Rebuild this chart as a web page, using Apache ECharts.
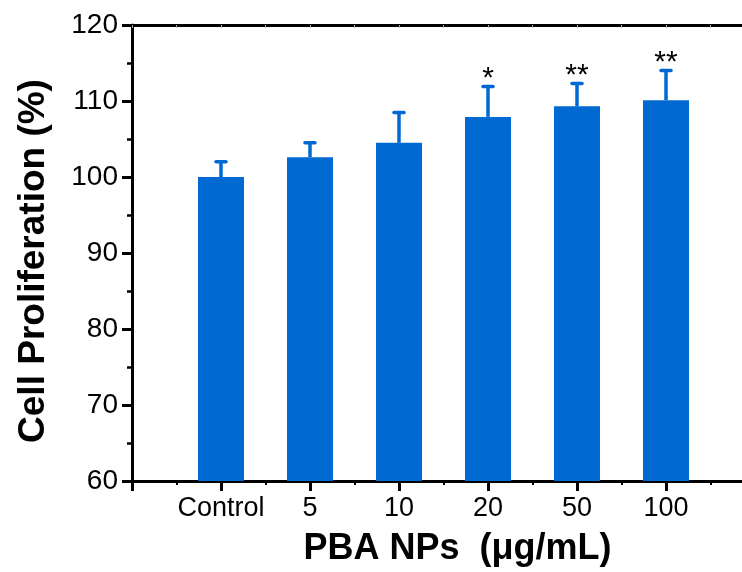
<!DOCTYPE html>
<html>
<head>
<meta charset="utf-8">
<script src="https://cdn.jsdelivr.net/npm/echarts@6/dist/echarts.min.js"></script>
<style>
  html, body { margin: 0; padding: 0; background: #fff; overflow: hidden; }
  /* plot frame runs past the right edge of the window, as in the figure */
  #chart { width: 758px; height: 572px; }
</style>
</head>
<body>
<div id="chart"></div>
<script>
// groups and readings
const categories = ["Control", "5", "10", "20", "50", "100"];
const means = [100.0, 102.6, 104.5, 107.9, 109.3, 110.1];
const errors = [2.0, 1.9, 4.0, 4.0, 3.0, 3.9];
const marks = ["", "", "", "*", "**", "**"];
const yTicks = [60, 70, 80, 90, 100, 110, 120];

const blue = "#0069d2";
const font = "Liberation Sans, Arial, sans-serif";

const barData = means.map((v, i) => [i + 1, v]);
const errData = means.map((v, i) => [i + 1, v, v + errors[i], i]);

const chart = echarts.init(document.getElementById("chart"));

const option = {
  animation: false,
  grid: { left: 132, top: 25, right: 0, bottom: 90 },
  xAxis: [
    {
      type: "value",
      min: 0,
      max: 7,
      interval: 1,
      name: "PBA NPs  (\u03bcg/mL)",
      nameLocation: "middle",
      nameGap: 50,
      nameTextStyle: {
        fontFamily: font, fontWeight: "bold", fontSize: 36, color: "#000",
        padding: [0, 0, 0, 28]
      },
      axisLine: { onZero: false, lineStyle: { color: "#000", width: 3 } },
      axisTick: { length: 10, lineStyle: { color: "#000", width: 3 } },
      minorTick: { show: true, splitNumber: 2, length: 4, lineStyle: { color: "#000", width: 2 } },
      splitLine: { show: false },
      axisLabel: {
        fontFamily: font,
        fontSize: 27,
        color: "#000",
        margin: 14,
        formatter: v => categories[v - 1] || ""
      }
    },
    {
      type: "value",
      position: "top",
      min: 0,
      max: 7,
      interval: 1,
      axisLine: { lineStyle: { color: "#000", width: 3 } },
      axisTick: { inside: true, length: 3, lineStyle: { color: "#aaa", width: 1 } },
      minorTick: { show: true, splitNumber: 2, length: 3, lineStyle: { color: "#aaa", width: 1 } },
      axisLabel: { show: false },
      splitLine: { show: false }
    }
  ],
  yAxis: {
    type: "value",
    min: yTicks[0],
    max: yTicks[yTicks.length - 1],
    interval: 10,
    name: "Cell Proliferation (%)",
    nameLocation: "middle",
    nameGap: 80,
    nameTextStyle: {
      fontFamily: font, fontWeight: "bold", fontSize: 37, color: "#000",
      padding: [0, 16, 0, 0]
    },
    axisLine: { show: true, lineStyle: { color: "#000", width: 3 } },
    axisTick: { show: true, length: 10, lineStyle: { color: "#000", width: 3 } },
    minorTick: { show: true, splitNumber: 2, length: 5, lineStyle: { color: "#000", width: 2.5 } },
    splitLine: { show: false },
    axisLabel: { fontFamily: font, fontSize: 28, color: "#000", margin: 14 }
  },
  series: [
    {
      type: "bar",
      data: barData,
      barWidth: 46,
      itemStyle: { color: blue },
      z: 2
    },
    {
      type: "custom",
      data: errData,
      z: 3,
      renderItem: (params, api) => {
        const x = api.value(0);
        const base = api.coord([x, api.value(1)]);
        const top = api.coord([x, api.value(2)]);
        const idx = api.value(3);
        const children = [
          {
            type: "line",
            shape: { x1: base[0], y1: base[1], x2: top[0], y2: top[1] },
            style: { stroke: blue, lineWidth: 3.5 }
          },
          {
            type: "line",
            shape: { x1: top[0] - 5, y1: top[1], x2: top[0] + 5, y2: top[1] },
            style: { stroke: blue, lineWidth: 3.5, lineCap: "round" }
          }
        ];
        if (marks[idx]) {
          children.push({
            type: "text",
            style: {
              text: marks[idx],
              x: top[0],
              y: top[1] - 8,
              align: "center",
              verticalAlign: "middle",
              fontFamily: font,
              fontSize: 30,
              fill: "#000"
            }
          });
        }
        return { type: "group", children: children };
      }
    }
  ]
};

chart.setOption(option);
</script>
</body>
</html>
